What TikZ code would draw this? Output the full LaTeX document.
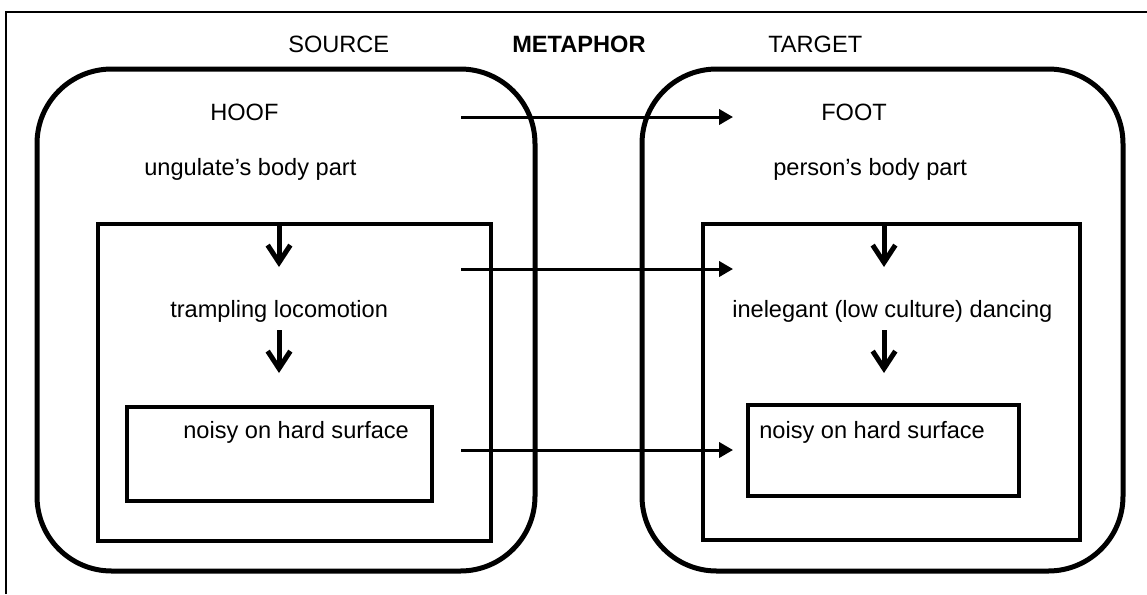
\documentclass[tikz,border=0pt]{standalone}
\usepackage{fontspec}
\setmainfont{Liberation Sans}
\usetikzlibrary{arrows.meta}

\begin{document}
\begin{tikzpicture}[
    x=0.75pt, y=-0.75pt,
    border/.style={line width=1.5pt},
    domainbox/.style={line width=3.75pt, rounded corners=56pt},
    levelbox/.style={line width=3.4pt},
    txt/.style={anchor=base west, inner sep=0pt, font=\fontsize{17.7}{21}\selectfont},
    head/.style={txt, font=\fontsize{17.7}{21}\selectfont\bfseries},
    maparrow/.style={-{Triangle[length=10.5pt, width=11.5pt]}, line width=2.25pt},
    flow/.style={-{Straight Barb[length=13pt, width=17pt]}, line width=3.75pt}
]

% page size
\useasboundingbox (0,0) rectangle (1147,594);

% open outer frame
\draw[border] (6,594) -- (6,12) -- (1147,12);

% headings
\node[txt] (source) at (288,52) {SOURCE};
\node[head] (metaphor) at (512,52) {METAPHOR};
\node[txt] (target) at (768,52) {TARGET};

% source domain
\draw[domainbox] (37,69) rectangle (535,571);
\draw[levelbox] (98,224) rectangle (491,541);
\draw[levelbox] (127,407) rectangle (432,501);
\node[txt] (hoof) at (210,120) {HOOF};
\node[txt] (ungulate) at (144,175) {ungulate’s body part};
\node[txt] (trampling) at (170,317) {trampling locomotion};
\node[txt] (noisysrc) at (183,438) {noisy on hard surface};

% target domain
\draw[domainbox] (642,69) rectangle (1123,571);
\draw[levelbox] (703,224) rectangle (1080,540);
\draw[levelbox] (748,405) rectangle (1019,496);
\node[txt] (foot) at (821,120) {FOOT};
\node[txt] (person) at (773,175) {person’s body part};
\node[txt] (dancing) at (732,317) {inelegant (low culture) dancing};
\node[txt] (noisytgt) at (759,438) {noisy on hard surface};

% mappings source -> target
\foreach \y/\n in {117/body, 269/motion, 450/sound} {
    \coordinate (src\n) at (461,\y);
    \coordinate (tgt\n) at (733,\y);
    \draw[maparrow] (src\n) -- (tgt\n);
}

% steps inside each domain
\foreach \x/\n in {279/src, 884/tgt} {
    \coordinate (\n a) at (\x,224);
    \coordinate (\n b) at (\x,267);
    \coordinate (\n c) at (\x,330);
    \coordinate (\n d) at (\x,373);
    \draw[flow] (\n a) -- (\n b);
    \draw[flow] (\n c) -- (\n d);
}

\end{tikzpicture}
\end{document}
